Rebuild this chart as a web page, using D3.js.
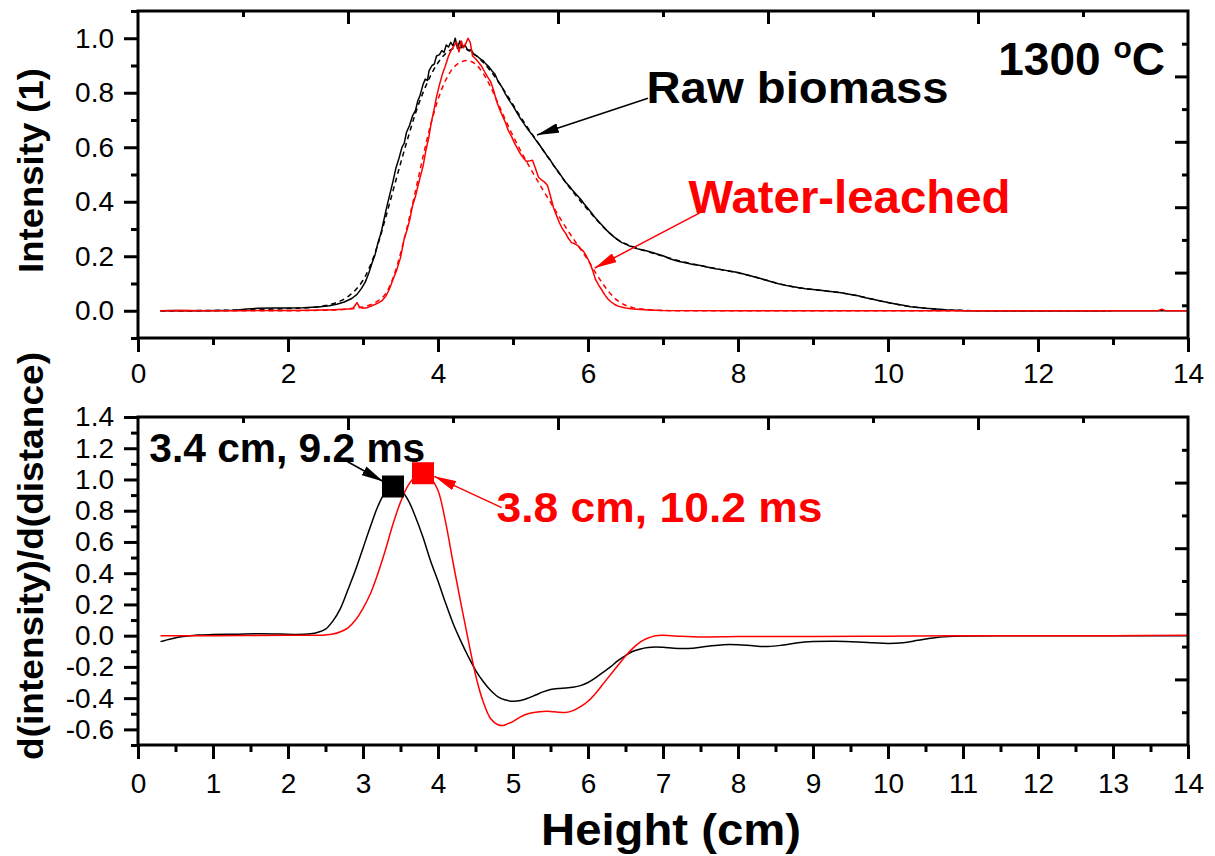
<!DOCTYPE html>
<html>
<head>
<meta charset="utf-8">
<script src="https://cdn.jsdelivr.net/npm/d3@7"></script>
<style>
  html, body { margin: 0; padding: 0; background: #fff; }
  svg { display: block; font-family: "Liberation Sans", Arial, sans-serif; }
</style>
</head>
<body>
<svg id="chart" width="1215" height="856"></svg>
<script>
// ---- Data: normalised intensity profiles along the height (cm) ----
const rawIntensity = [
  [0.30,0.000],[0.50,0.001],[0.80,0.000],[1.10,0.001],[1.30,0.002],[1.45,0.006],[1.60,0.009],[1.80,0.010],
  [2.00,0.010],[2.20,0.011],[2.40,0.014],[2.55,0.018],[2.65,0.024],[2.75,0.032],[2.85,0.045],[2.92,0.060],
  [2.98,0.082],[3.03,0.105],[3.08,0.140],[3.12,0.175],[3.16,0.205],[3.20,0.250],[3.24,0.285],[3.28,0.335],
  [3.32,0.385],[3.36,0.430],[3.40,0.475],[3.44,0.525],[3.48,0.560],[3.52,0.600],[3.55,0.615],[3.58,0.655],
  [3.62,0.680],[3.66,0.715],[3.70,0.735],[3.73,0.770],[3.76,0.790],[3.80,0.830],[3.83,0.850],[3.86,0.845],
  [3.88,0.880],[3.92,0.900],[3.95,0.905],[3.98,0.935],[4.02,0.940],[4.05,0.955],[4.08,0.948],[4.11,0.975],
  [4.14,0.968],[4.17,0.985],[4.20,0.972],[4.23,1.000],[4.26,0.962],[4.29,0.990],[4.32,0.968],[4.36,0.975],
  [4.40,0.955],[4.44,0.958],[4.48,0.940],[4.52,0.935],[4.56,0.925],[4.60,0.918],[4.64,0.905],[4.68,0.895],
  [4.72,0.880],[4.76,0.868],[4.80,0.842],[4.85,0.822],[4.90,0.795],[4.95,0.772],[5.00,0.752],[5.05,0.728],
  [5.10,0.705],[5.15,0.685],[5.20,0.665],[5.25,0.648],[5.30,0.628],[5.35,0.610],[5.40,0.590],[5.45,0.570],
  [5.50,0.552],[5.55,0.530],[5.60,0.512],[5.65,0.492],[5.70,0.472],[5.75,0.458],[5.80,0.440],[5.85,0.425],
  [5.90,0.410],[5.95,0.392],[6.00,0.375],[6.05,0.358],[6.10,0.340],[6.15,0.325],[6.20,0.310],[6.25,0.295],
  [6.30,0.282],[6.35,0.270],[6.40,0.260],[6.45,0.250],[6.50,0.246],[6.55,0.238],[6.60,0.235],[6.65,0.228],
  [6.70,0.225],[6.75,0.222],[6.80,0.218],[6.90,0.210],[7.00,0.202],[7.10,0.190],[7.20,0.182],[7.30,0.176],
  [7.40,0.170],[7.50,0.166],[7.60,0.160],[7.70,0.154],[7.80,0.150],[7.90,0.145],[8.00,0.140],[8.10,0.133],
  [8.20,0.126],[8.30,0.118],[8.40,0.110],[8.50,0.102],[8.60,0.095],[8.70,0.090],[8.80,0.085],[8.90,0.081],
  [9.00,0.078],[9.10,0.075],[9.20,0.072],[9.30,0.069],[9.40,0.065],[9.50,0.060],[9.60,0.055],[9.70,0.048],
  [9.80,0.042],[9.90,0.036],[10.00,0.030],[10.10,0.025],[10.20,0.020],[10.30,0.015],[10.40,0.012],[10.50,0.009],
  [10.60,0.007],[10.80,0.003],[11.00,0.001],[11.50,0.000],[12.00,0.000],[13.00,0.000],[14.00,0.000]
];
const rawFit = [
  [0.30,0.000],[1.00,0.001],[1.50,0.004],[2.00,0.008],[2.30,0.012],[2.50,0.019],[2.60,0.026],[2.70,0.036],
  [2.80,0.052],[2.90,0.076],[3.00,0.112],[3.10,0.168],[3.20,0.245],[3.30,0.340],[3.40,0.440],[3.50,0.540],
  [3.60,0.635],[3.70,0.725],[3.80,0.800],[3.90,0.862],[4.00,0.910],[4.10,0.943],[4.20,0.962],[4.30,0.966],
  [4.40,0.957],[4.50,0.938],[4.60,0.912],[4.70,0.880],[4.80,0.843],[4.90,0.800],[5.00,0.756],[5.10,0.712],
  [5.20,0.670],[5.30,0.630],[5.40,0.590],[5.50,0.550],[5.60,0.510],[5.70,0.472],[5.80,0.436],[5.90,0.402],
  [6.00,0.370],[6.10,0.338],[6.20,0.308],[6.30,0.282],[6.40,0.260],[6.50,0.245],[6.60,0.234],[6.70,0.225],
  [6.80,0.217],[7.00,0.200],[7.25,0.181],[7.50,0.166],[7.75,0.152],[8.00,0.139],[8.25,0.122],[8.50,0.103],
  [8.75,0.087],[9.00,0.078],[9.25,0.070],[9.50,0.060],[9.75,0.045],[10.00,0.030],[10.25,0.017],[10.50,0.009],
  [10.75,0.004],[11.00,0.001],[11.50,0.000],[12.90,0.000]
];
const leachedIntensity = [
  [0.30,0.000],[0.60,0.001],[0.90,0.000],[1.30,0.000],[1.70,0.001],[2.00,0.001],[2.30,0.002],[2.60,0.004],
  [2.80,0.006],[2.87,0.010],[2.90,0.022],[2.92,0.030],[2.95,0.015],[3.00,0.009],[3.05,0.011],[3.10,0.016],
  [3.15,0.022],[3.20,0.028],[3.25,0.036],[3.30,0.052],[3.35,0.078],[3.40,0.115],[3.45,0.150],[3.50,0.195],
  [3.55,0.265],[3.58,0.290],[3.62,0.330],[3.66,0.385],[3.70,0.420],[3.73,0.455],[3.76,0.488],[3.80,0.530],
  [3.84,0.590],[3.88,0.640],[3.91,0.690],[3.95,0.742],[3.98,0.785],[4.02,0.830],[4.06,0.870],[4.10,0.900],
  [4.14,0.935],[4.18,0.958],[4.22,0.975],[4.25,0.985],[4.28,0.950],[4.31,0.990],[4.34,0.965],[4.37,0.980],
  [4.40,1.000],[4.43,0.985],[4.46,0.935],[4.50,0.925],[4.54,0.912],[4.58,0.898],[4.62,0.878],[4.66,0.858],
  [4.70,0.842],[4.74,0.810],[4.78,0.770],[4.82,0.740],[4.86,0.715],[4.90,0.690],[4.94,0.660],[4.98,0.640],
  [5.02,0.615],[5.06,0.595],[5.10,0.575],[5.14,0.560],[5.18,0.548],[5.22,0.550],[5.26,0.552],[5.30,0.522],
  [5.34,0.490],[5.38,0.480],[5.42,0.472],[5.46,0.460],[5.50,0.420],[5.54,0.378],[5.58,0.350],[5.62,0.322],
  [5.66,0.300],[5.70,0.285],[5.74,0.265],[5.78,0.250],[5.82,0.246],[5.86,0.240],[5.90,0.228],[5.94,0.218],
  [5.98,0.200],[6.02,0.178],[6.06,0.150],[6.10,0.115],[6.14,0.095],[6.18,0.078],[6.22,0.060],[6.26,0.045],
  [6.30,0.034],[6.35,0.024],[6.40,0.017],[6.50,0.010],[6.60,0.006],[6.80,0.003],[7.00,0.001],[8.00,0.000],
  [9.00,0.000],[10.00,0.000],[11.00,0.000],[12.00,0.000],[13.00,0.000],[13.60,0.000],[13.65,0.006],[13.70,0.000],
  [14.00,0.000]
];
const leachedFit = [
  [0.30,0.000],[2.00,0.000],[2.50,0.002],[2.70,0.004],[2.90,0.009],[3.00,0.014],[3.10,0.022],[3.20,0.036],
  [3.30,0.062],[3.40,0.120],[3.50,0.210],[3.60,0.320],[3.70,0.440],[3.80,0.565],[3.90,0.680],[4.00,0.775],
  [4.10,0.845],[4.20,0.890],[4.30,0.912],[4.40,0.918],[4.50,0.905],[4.60,0.872],[4.70,0.822],[4.80,0.762],
  [4.90,0.700],[5.00,0.642],[5.10,0.588],[5.20,0.538],[5.30,0.490],[5.40,0.443],[5.50,0.398],[5.60,0.352],
  [5.70,0.308],[5.80,0.266],[5.90,0.226],[6.00,0.185],[6.10,0.140],[6.20,0.098],[6.30,0.062],[6.40,0.036],
  [6.50,0.020],[6.60,0.011],[6.80,0.004],[7.00,0.001],[8.00,0.000],[13.00,0.000]
];

// ---- Data: derivative of intensity with respect to distance ----
const rawDerivative = [
  [0.30,-0.038],[0.45,-0.020],[0.60,-0.006],[0.80,0.004],[1.00,0.007],[1.30,0.009],[1.60,0.012],[1.90,0.010],
  [2.10,0.008],[2.30,0.012],[2.40,0.022],[2.50,0.042],[2.60,0.095],[2.70,0.175],[2.80,0.295],[2.90,0.420],
  [3.00,0.560],[3.10,0.700],[3.20,0.830],[3.30,0.920],[3.40,0.955],[3.50,0.935],[3.60,0.870],[3.70,0.760],
  [3.80,0.630],[3.90,0.480],[4.00,0.350],[4.10,0.210],[4.20,0.080],[4.30,-0.030],[4.40,-0.130],[4.50,-0.220],
  [4.60,-0.292],[4.70,-0.350],[4.80,-0.392],[4.90,-0.412],[5.00,-0.420],[5.10,-0.415],[5.20,-0.400],[5.30,-0.380],
  [5.40,-0.360],[5.50,-0.345],[5.60,-0.338],[5.70,-0.335],[5.80,-0.330],[5.90,-0.320],[6.00,-0.300],[6.10,-0.270],
  [6.20,-0.235],[6.30,-0.200],[6.40,-0.160],[6.50,-0.128],[6.60,-0.100],[6.70,-0.085],[6.80,-0.076],[6.90,-0.072],
  [7.00,-0.074],[7.20,-0.082],[7.40,-0.080],[7.60,-0.068],[7.80,-0.058],[8.00,-0.058],[8.20,-0.065],[8.40,-0.070],
  [8.60,-0.060],[8.80,-0.045],[9.00,-0.038],[9.30,-0.036],[9.60,-0.040],[9.80,-0.045],[10.00,-0.050],[10.20,-0.045],
  [10.40,-0.030],[10.60,-0.015],[10.80,-0.006],[11.00,-0.002],[11.50,0.000],[12.00,0.000],[13.00,0.000],[14.00,0.000]
];
const leachedDerivative = [
  [0.30,0.000],[1.00,0.000],[2.00,0.002],[2.50,0.005],[2.60,0.010],[2.70,0.025],[2.80,0.050],[2.90,0.100],
  [3.00,0.175],[3.10,0.270],[3.20,0.400],[3.30,0.550],[3.40,0.715],[3.50,0.855],[3.60,0.960],[3.70,1.020],
  [3.80,1.040],[3.90,1.010],[4.00,0.930],[4.10,0.730],[4.20,0.470],[4.30,0.220],[4.40,-0.020],[4.50,-0.250],
  [4.60,-0.420],[4.70,-0.530],[4.80,-0.570],[4.87,-0.575],[4.95,-0.560],[5.00,-0.550],[5.10,-0.520],[5.20,-0.500],
  [5.30,-0.490],[5.40,-0.485],[5.50,-0.485],[5.60,-0.490],[5.70,-0.492],[5.80,-0.480],[5.90,-0.455],[6.00,-0.420],
  [6.10,-0.370],[6.20,-0.310],[6.30,-0.250],[6.40,-0.190],[6.50,-0.130],[6.60,-0.080],[6.70,-0.040],[6.80,-0.015],
  [6.90,0.000],[7.00,0.002],[7.20,-0.003],[7.50,-0.008],[8.00,-0.005],[9.00,-0.005],[10.00,-0.003],[11.00,-0.001],
  [12.00,0.000],[13.00,0.000],[14.00,0.002]
];

// Peak positions of the derivative curves (cm, value)
const rawPeak = [3.4, 0.955];
const leachedPeak = [3.8, 1.04];

// Tick values
const xTicksTop = [0, 2, 4, 6, 8, 10, 12, 14];
const xMinorTop = [1, 3, 5, 7, 9, 11, 13];
const xTicksBottom = [0, 1, 2, 3, 4, 5, 6, 7, 8, 9, 10, 11, 12, 13, 14];
const xMinorBottom = [0.5, 1.5, 2.5, 3.5, 4.5, 5.5, 6.5, 7.5, 8.5, 9.5, 10.5, 11.5, 12.5, 13.5];
const yTicksTop = [0.0, 0.2, 0.4, 0.6, 0.8, 1.0];
const yMinorTop = [-0.1, 0.1, 0.3, 0.5, 0.7, 0.9, 1.1];
const yTicksBottom = [-0.6, -0.4, -0.2, 0.0, 0.2, 0.4, 0.6, 0.8, 1.0, 1.2, 1.4];
const yMinorBottom = [-0.7, -0.5, -0.3, -0.1, 0.1, 0.3, 0.5, 0.7, 0.9, 1.1, 1.3];
const frameMajor = [0.2, 0.4, 0.6, 0.8];
const frameMinor = [0.1, 0.3, 0.5, 0.7, 0.9];

// ---- Layout ----
const svg = d3.select("#chart");
const RED = "#ff0000";
const left = 138, right = 1188;
const top1 = 11, bot1 = 338;
const top2 = 417, bot2 = 745;

const x = d3.scaleLinear([0, 14], [left, right]);
const yTop = d3.scaleLinear([-0.1, 1.1], [bot1, top1]);
const yBot = d3.scaleLinear([-0.7, 1.4], [bot2, top2]);
// unlabelled opposite-side frame axes
const xFrame = d3.scaleLinear([0, 1], [left, right]);
const yFrameTop = d3.scaleLinear([0, 1], [bot1, top1]);
const yFrameBot = d3.scaleLinear([0, 1], [bot2, top2]);

const fmt = v => d3.format(".1f")(v).replace("\u2212", "-");

svg.append("rect").attr("width", 1215).attr("height", 856).attr("fill", "#fff");

const defs = svg.append("defs");
[["arrowBlack", "#000"], ["arrowRed", RED]].forEach(([id, c]) => {
  defs.append("marker").attr("id", id)
    .attr("viewBox", "0 0 22 10").attr("refX", 22).attr("refY", 5)
    .attr("markerWidth", 22).attr("markerHeight", 10)
    .attr("markerUnits", "userSpaceOnUse").attr("orient", "auto")
    .append("path").attr("d", "M0,0 L22,5 L0,10 Z").attr("fill", c);
});
defs.append("clipPath").attr("id", "clipTop").append("rect")
  .attr("x", left).attr("y", top1).attr("width", right - left).attr("height", bot1 - top1);
defs.append("clipPath").attr("id", "clipBot").append("rect")
  .attr("x", left).attr("y", top2).attr("width", right - left).attr("height", bot2 - top2);

function styleAxis(g) {
  g.select(".domain").remove();
  g.selectAll(".tick line").attr("stroke", "#000").attr("stroke-width", 3);
  g.selectAll(".tick text").attr("font-size", 28).attr("fill", "#000")
    .attr("font-family", "'Liberation Sans', Arial, sans-serif");
}

function drawAxes(y, yTicks, yMinor, xTicks, xMinor, yFrame, bottom, topY, labelPad) {
  // left axis
  svg.append("g").attr("transform", `translate(${left},0)`)
    .call(d3.axisLeft(y).tickValues(yTicks).tickSize(14).tickPadding(10).tickFormat(fmt)).call(styleAxis);
  svg.append("g").attr("transform", `translate(${left},0)`)
    .call(d3.axisLeft(y).tickValues(yMinor).tickSize(7).tickFormat("")).call(styleAxis);
  // bottom axis
  svg.append("g").attr("transform", `translate(0,${bottom})`)
    .call(d3.axisBottom(x).tickValues(xTicks).tickSize(14).tickPadding(labelPad).tickFormat(d3.format("d"))).call(styleAxis);
  svg.append("g").attr("transform", `translate(0,${bottom})`)
    .call(d3.axisBottom(x).tickValues(xMinor).tickSize(7).tickFormat("")).call(styleAxis);
  // top frame axis, ticks pointing inward
  svg.append("g").attr("transform", `translate(0,${topY})`)
    .call(d3.axisTop(xFrame).tickValues(frameMajor).tickSize(-13).tickFormat("")).call(styleAxis);
  svg.append("g").attr("transform", `translate(0,${topY})`)
    .call(d3.axisTop(xFrame).tickValues(frameMinor).tickSize(-6).tickFormat("")).call(styleAxis);
  // right frame axis, ticks pointing inward
  svg.append("g").attr("transform", `translate(${right},0)`)
    .call(d3.axisRight(yFrame).tickValues(frameMajor).tickSize(-13).tickFormat("")).call(styleAxis);
  svg.append("g").attr("transform", `translate(${right},0)`)
    .call(d3.axisRight(yFrame).tickValues(frameMinor).tickSize(-6).tickFormat("")).call(styleAxis);
  // frame
  svg.append("rect").attr("x", left).attr("y", topY).attr("width", right - left).attr("height", bottom - topY)
    .attr("fill", "none").attr("stroke", "#000").attr("stroke-width", 3);
}

// ---- Upper panel: intensity ----
const lineTop = d3.line().x(d => x(d[0])).y(d => yTop(d[1]));
const lineTopSmooth = d3.line().x(d => x(d[0])).y(d => yTop(d[1])).curve(d3.curveCatmullRom.alpha(0.5));
const gTop = svg.append("g").attr("clip-path", "url(#clipTop)");
gTop.append("path").datum(rawFit).attr("d", lineTopSmooth)
  .attr("fill", "none").attr("stroke", "#000").attr("stroke-width", 1.5).attr("stroke-dasharray", "5,4");
gTop.append("path").datum(leachedFit).attr("d", lineTopSmooth)
  .attr("fill", "none").attr("stroke", RED).attr("stroke-width", 1.5).attr("stroke-dasharray", "5,4");
gTop.append("path").datum(rawIntensity).attr("d", lineTop)
  .attr("fill", "none").attr("stroke", "#000").attr("stroke-width", 1.5).attr("stroke-linejoin", "round");
gTop.append("path").datum(leachedIntensity).attr("d", lineTop)
  .attr("fill", "none").attr("stroke", RED).attr("stroke-width", 1.5).attr("stroke-linejoin", "round");

drawAxes(yTop, yTicksTop, yMinorTop, xTicksTop, xMinorTop, yFrameTop, bot1, top1, 11);

// ---- Lower panel: derivative ----
const lineBot = d3.line().x(d => x(d[0])).y(d => yBot(d[1])).curve(d3.curveCatmullRom.alpha(0.5));
const gBot = svg.append("g").attr("clip-path", "url(#clipBot)");
gBot.append("path").datum(rawDerivative).attr("d", lineBot)
  .attr("fill", "none").attr("stroke", "#000").attr("stroke-width", 1.5);
gBot.append("path").datum(leachedDerivative).attr("d", lineBot)
  .attr("fill", "none").attr("stroke", RED).attr("stroke-width", 1.5);

drawAxes(yBot, yTicksBottom, yMinorBottom, xTicksBottom, xMinorBottom, yFrameBot, bot2, top2, 14);

// peak markers
const square = d3.symbol(d3.symbolSquare, 22 * 22);
svg.append("path").attr("d", square).attr("fill", "#000")
  .attr("transform", `translate(${x(rawPeak[0])},${yBot(rawPeak[1])})`);
svg.append("path").attr("d", square).attr("fill", RED)
  .attr("transform", `translate(${x(leachedPeak[0])},${yBot(leachedPeak[1])})`);

// ---- Annotations ----
function arrow(y, from, to, marker, color) {
  svg.append("line")
    .attr("x1", x(from[0])).attr("y1", y(from[1]))
    .attr("x2", x(to[0])).attr("y2", y(to[1]))
    .attr("stroke", color).attr("stroke-width", 1.5)
    .attr("marker-end", `url(#${marker})`);
}
function label(y, pos, text, size, color, len) {
  const t = svg.append("text").attr("x", x(pos[0])).attr("y", y(pos[1]))
    .attr("font-size", size).attr("font-weight", "bold").attr("fill", color).text(text);
  if (len) t.attr("textLength", len).attr("lengthAdjust", "spacingAndGlyphs");
  return t;
}

label(yTop, [6.78, 0.762], "Raw biomass", 45, "#000", 302);
arrow(yTop, [6.80, 0.78], [5.32, 0.645], "arrowBlack", "#000");
label(yTop, [7.34, 0.359], "Water-leached", 46, RED, 322);
arrow(yTop, [7.49, 0.359], [6.09, 0.157], "arrowRed", RED);

const deg = svg.append("text").attr("x", x(11.47)).attr("y", yTop(0.864))
  .attr("font-size", 46).attr("font-weight", "bold").attr("fill", "#000");
deg.append("tspan").text("1300 ");
deg.append("tspan").attr("font-size", 30).attr("dy", -17).text("o");
deg.append("tspan").attr("dy", 17).text("C");

label(yBot, [0.15, 1.115], "3.4 cm, 9.2 ms", 40, "#000", 276);
arrow(yBot, [2.79, 1.115], [3.27, 0.987], "arrowBlack", "#000");
label(yBot, [4.78, 0.73], "3.8 cm, 10.2 ms", 42, RED, 326);
arrow(yBot, [4.85, 0.82], [3.95, 1.02], "arrowRed", RED);

// ---- Axis titles ----
svg.append("text").attr("transform", `translate(43,${(68 + 273) / 2}) rotate(-90)`)
  .attr("text-anchor", "middle").attr("font-size", 35).attr("font-weight", "bold")
  .attr("textLength", 205).attr("lengthAdjust", "spacingAndGlyphs").text("Intensity (1)");
svg.append("text").attr("transform", `translate(43,${(352 + 760) / 2}) rotate(-90)`)
  .attr("text-anchor", "middle").attr("font-size", 35).attr("font-weight", "bold")
  .attr("textLength", 408).attr("lengthAdjust", "spacingAndGlyphs").text("d(intensity)/d(distance)");
svg.append("text").attr("x", 541).attr("y", 845)
  .attr("font-size", 45).attr("font-weight", "bold")
  .attr("textLength", 260).attr("lengthAdjust", "spacingAndGlyphs").text("Height (cm)");
</script>
</body>
</html>
